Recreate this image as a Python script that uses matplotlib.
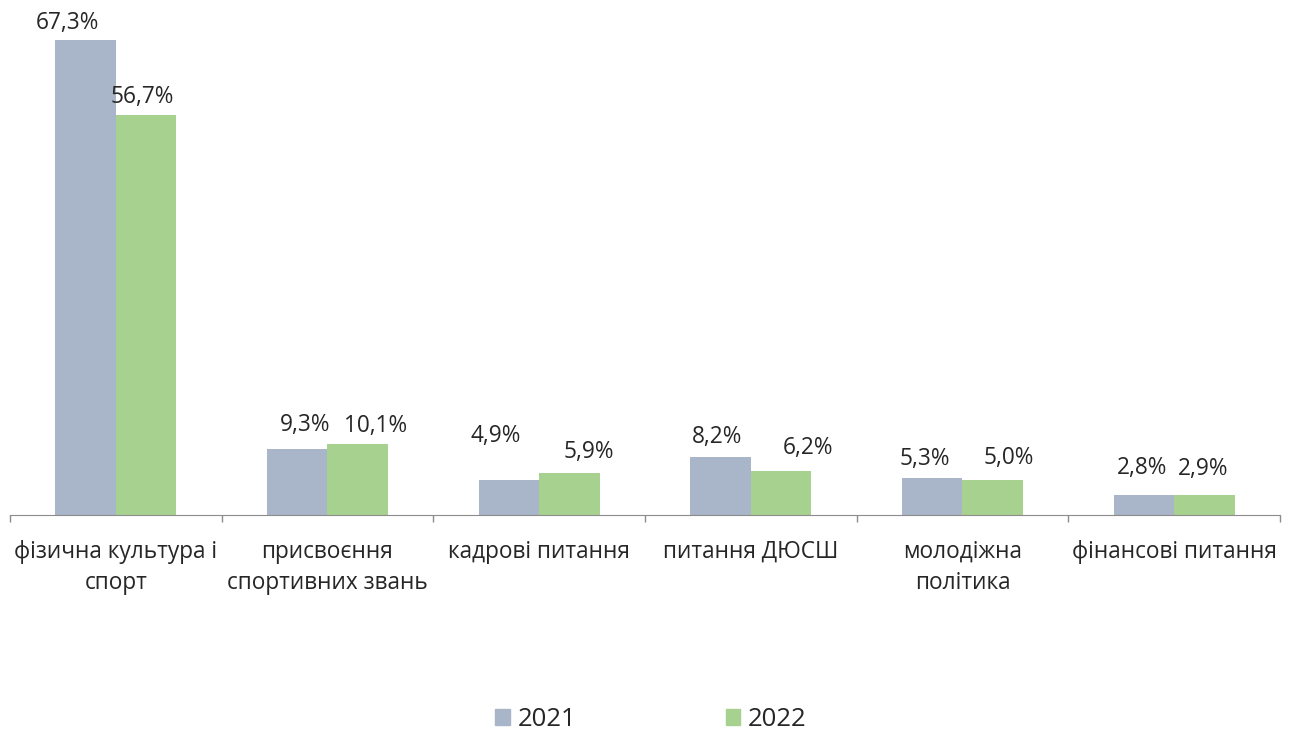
import matplotlib
matplotlib.use("Agg")
import matplotlib.pyplot as plt
import numpy as np
from matplotlib.patches import Patch

categories = ["фізична культура і\nспорт", "присвоєння\nспортивних звань", "кадрові питання",
              "питання ДЮСШ", "молодіжна\nполітика", "фінансові питання"]
values_2021 = [67.3, 9.3, 4.9, 8.2, 5.3, 2.8]
values_2022 = [56.7, 10.1, 5.9, 6.2, 5.0, 2.9]
series_names = ["2021", "2022"]

# label offsets in pixels (dx, dy from bar top centre)
offsets_2021 = [(-18, 17), (8, 24), (-13, 44), (-4, 20), (-7, 19), (-2, 27)]
offsets_2022 = [(-4, 18), (18, 18), (19, 21), (27, 23), (16, 22), (-1, 26)]

c2021 = "#A9B5C9"
c2022 = "#A7D18F"
txt = "#262626"
font = "Open Sans"
fs = 16.3
fs_leg = 18.5

plt.rcParams['font.family'] = [font, 'DejaVu Sans']

fig = plt.figure(figsize=(12.94, 7.31), dpi=100)
ax = fig.add_axes([10/1294, 1 - 515/731, 1270/1294, 515/731])

x = np.arange(len(categories))
w = 0.286
b1 = ax.bar(x - w/2, values_2021, w, color=c2021)
b2 = ax.bar(x + w/2, values_2022, w, color=c2022)

def fmt(v):
    return f"{v:.1f}%".replace(".", ",")

for bars, vals, offs in [(b1, values_2021, offsets_2021), (b2, values_2022, offsets_2022)]:
    for r, v, (dx, dy) in zip(bars, vals, offs):
        ax.annotate(fmt(v), (r.get_x() + r.get_width()/2, v), xytext=(dx, dy),
                    textcoords="offset pixels", ha="center", va="center",
                    fontsize=fs, color=txt)

ax.set_xlim(-0.5, len(categories) - 0.5)
ax.set_ylim(0, 515/7.06)
for s in ["top", "right", "left"]:
    ax.spines[s].set_visible(False)
ax.spines["bottom"].set_color("#8C8C8C")
ax.set_yticks([])
ax.set_xticks(np.arange(len(categories) + 1) - 0.5)
ax.set_xticklabels([])
ax.tick_params(axis="x", length=5, color="#8C8C8C", width=1)
ax.set_xticks(x, minor=True)
ax.set_xticklabels(categories, minor=True, fontsize=fs, color=txt, linespacing=1.4)
ax.tick_params(axis="x", which="minor", length=0, pad=18)

handles = [Patch(color=c2021, label=series_names[0]), Patch(color=c2022, label=series_names[1])]
fig.legend(handles=handles, loc="center", bbox_to_anchor=(651/1294, 1 - 720/731), ncol=2,
           frameon=False, fontsize=fs_leg, handlelength=0.58, handleheight=0.58,
           handletextpad=0.3, columnspacing=5.8, labelcolor=txt, borderpad=0)

fig.savefig("out.png", dpi=100)
